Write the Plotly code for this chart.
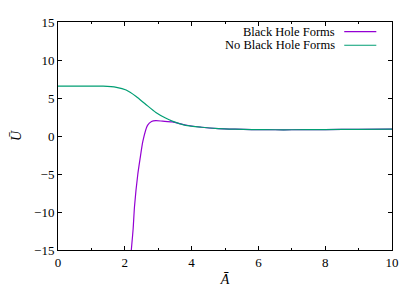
import plotly.graph_objects as go

# Data
a_bh = [2.195, 2.25, 2.29, 2.39, 2.46, 2.54, 2.68, 2.80, 2.93, 3.13, 3.42, 3.82, 4.30, 4.80, 5.30, 5.80, 6.50, 7.00, 8.00, 9.00, 10.0]
u_bh = [-15.0, -12.2, -9.3, -5.0, -2.9, -0.7, 1.4, 1.9, 2.02, 1.95, 1.85, 1.45, 1.15, 0.98, 0.90, 0.85, 0.82, 0.82, 0.85, 0.88, 0.90]

a_nobh = [0.0, 0.5, 1.0, 1.35, 1.75, 2.04, 2.34, 2.63, 2.93, 3.22, 3.42, 3.82, 4.30, 4.80, 5.30, 5.80, 6.50, 7.00, 8.00, 9.00, 10.0]
u_nobh = [6.55, 6.55, 6.55, 6.55, 6.4, 6.05, 5.2, 4.15, 3.1, 2.36, 1.95, 1.4, 1.15, 0.98, 0.90, 0.85, 0.82, 0.82, 0.85, 0.88, 0.90]

names = ["Black Hole Forms", "No Black Hole Forms"]
colors = ["#9400D3", "#009E73"]

x_ticks = [0, 2, 4, 6, 8, 10]
y_ticks = [-15, -10, -5, 0, 5, 10, 15]
y_tick_text = ["\u221215", "\u221210", "\u22125", "0", "5", "10", "15"]

FONT = "Liberation Serif"
FS = 13

fig = go.Figure()
fig.add_trace(go.Scatter(x=a_bh, y=u_bh, mode="lines", name=names[0],
                         line=dict(color=colors[0], width=1.2, shape="spline", smoothing=0.6),
                         showlegend=False))
fig.add_trace(go.Scatter(x=a_nobh, y=u_nobh, mode="lines", name=names[1],
                         line=dict(color=colors[1], width=1.2, shape="spline", smoothing=0.6),
                         showlegend=False))

# gnuplot-style legend: right-aligned text, sample line to the right
legend_y = [0.958, 0.898]
for name, col, ly in zip(names, colors, legend_y):
    fig.add_annotation(x=0.834, y=ly, xref="paper", yref="paper", text=name,
                       showarrow=False, xanchor="right", yanchor="middle",
                       font=dict(family=FONT, size=12.5, color="black"))
    fig.add_shape(type="line", xref="paper", yref="paper",
                  x0=0.857, x1=0.953, y0=ly, y1=ly,
                  line=dict(color=col, width=1.2))

axis_common = dict(showline=True, linecolor="black", linewidth=1, mirror="allticks",
                   ticks="inside", ticklen=4, tickcolor="black", showgrid=False,
                   zeroline=False, tickfont=dict(family=FONT, size=FS, color="black"))

fig.update_xaxes(range=[0, 10], tickvals=x_ticks,
                 minor=dict(ticks="inside", ticklen=2, tickcolor="black", dtick=1, tick0=0),
                 title=dict(text="<i>A\u0304</i>", font=dict(family=FONT, size=FS + 1, color="black"), standoff=5),
                 **axis_common)
fig.update_yaxes(range=[-15, 15], tickvals=y_ticks, ticktext=y_tick_text,
                 title=dict(text="<i>U\u0304</i>", font=dict(family=FONT, size=FS + 1, color="black"), standoff=9),
                 **axis_common)

# page body has an 8px margin, so the figure is shrunk and offset accordingly
fig.update_layout(width=407, height=283,
                  margin=dict(l=46, r=23, t=7, b=41),
                  paper_bgcolor="white", plot_bgcolor="white",
                  font=dict(family=FONT, size=FS, color="black"))

fig.write_html("out.html")
